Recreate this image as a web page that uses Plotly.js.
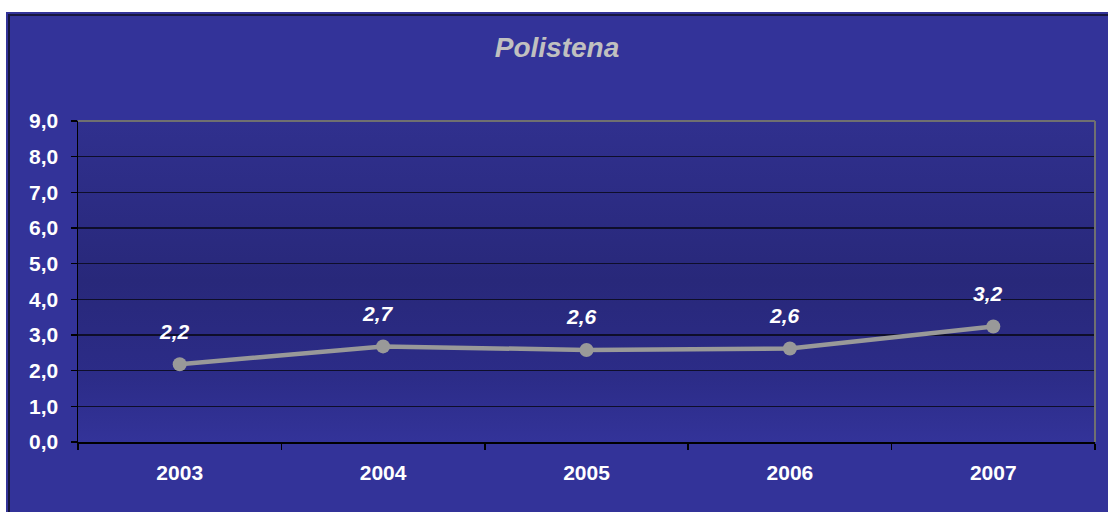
<!DOCTYPE html>
<html>
<head>
<meta charset="utf-8">
<script src="https://cdn.plot.ly/plotly-3.0.1.min.js"></script>
<style>
  body { margin: 0; background: #ffffff; }
  #frame {
    position: absolute; left: 6px; top: 12px; width: 1102px; height: 500px;
    background: #333399;
  }
  #edge {
    position: absolute; left: 2px; top: 2px; right: 0; bottom: 0;
    border-left: 2px solid #16163e; border-top: 2px solid #16163e;
  }
  #plotbg {
    position: absolute; left: 72px; top: 109px; width: 1017px; height: 321px;
    background: linear-gradient(#30308e 0%, #28287a 50%, #2c2c88 80%, #333399 100%);
  }
  #chart { position: absolute; left: 0; top: 0; width: 1102px; height: 500px; }
</style>
</head>
<body>
<div id="frame">
  <div id="edge"></div>
  <div id="plotbg"></div>
  <div id="chart"></div>
</div>
<script>
const years = ['2003', '2004', '2005', '2006', '2007'];
const values = [2.18, 2.68, 2.58, 2.62, 3.24];
const yTicks = [0, 1, 2, 3, 4, 5, 6, 7, 8, 9];

const font = 'Liberation Sans, Arial, sans-serif';

// value labels above each point
const labels = values.map((v, i) => ({
    xref: 'x', yref: 'y',
    x: i,
    y: v,
    text: '<b><i>' + v.toFixed(1).replace('.', ',') + '</i></b>',
    showarrow: false,
    yshift: 33,
    xshift: -5,
    font: { family: font, size: 21, color: '#ffffff' }
}));

Plotly.newPlot('chart', [{
    x: years,
    y: values,
    mode: 'lines+markers',
    line: { color: '#999999', width: 4.5 },
    marker: { color: '#999999', size: 14 },
    hoverinfo: 'skip'
}], {
    width: 1102,
    height: 500,
    margin: { l: 72, r: 13, t: 109, b: 70 },
    paper_bgcolor: 'rgba(0,0,0,0)',
    plot_bgcolor: 'rgba(0,0,0,0)',
    showlegend: false,
    separators: ',.',
    title: {
        text: '<b><i>Polistena</i></b>',
        font: { family: font, size: 28, color: '#c0c0c0' },
        xref: 'container', x: 0.5, xanchor: 'center',
        yref: 'container', y: 0.93, yanchor: 'middle'
    },
    xaxis: {
        type: 'category',
        range: [-0.5, 4.5],
        tickson: 'boundaries',
        ticks: 'outside', ticklen: 6, tickcolor: '#000000', tickwidth: 1.5,
        showline: true, linecolor: '#000000', linewidth: 1.5,
        showgrid: false,
        ticklabelstandoff: 11,
        tickfont: { family: font, size: 21, color: '#ffffff', weight: 'bold' },
        fixedrange: true
    },
    yaxis: {
        range: [0, 9],
        tickvals: yTicks,
        tickformat: '.1f',
        ticks: 'outside', ticklen: 6, tickcolor: '#000000', tickwidth: 1.5,
        showline: true, linecolor: '#000000', linewidth: 1.5,
        showgrid: true, gridcolor: '#0e0e2a', gridwidth: 1.5,
        zeroline: false,
        ticklabelstandoff: 8,
        tickfont: { family: font, size: 21, color: '#ffffff', weight: 'bold' },
        fixedrange: true
    },
    shapes: [
        { type: 'line', xref: 'paper', yref: 'paper', x0: 0, x1: 1, y0: 1, y1: 1,
          line: { color: '#707070', width: 2 } },
        { type: 'line', xref: 'paper', yref: 'paper', x0: 1, x1: 1, y0: 0, y1: 1,
          line: { color: '#707070', width: 2 } }
    ],
    annotations: labels
}, { displayModeBar: false, staticPlot: true });
</script>
</body>
</html>
